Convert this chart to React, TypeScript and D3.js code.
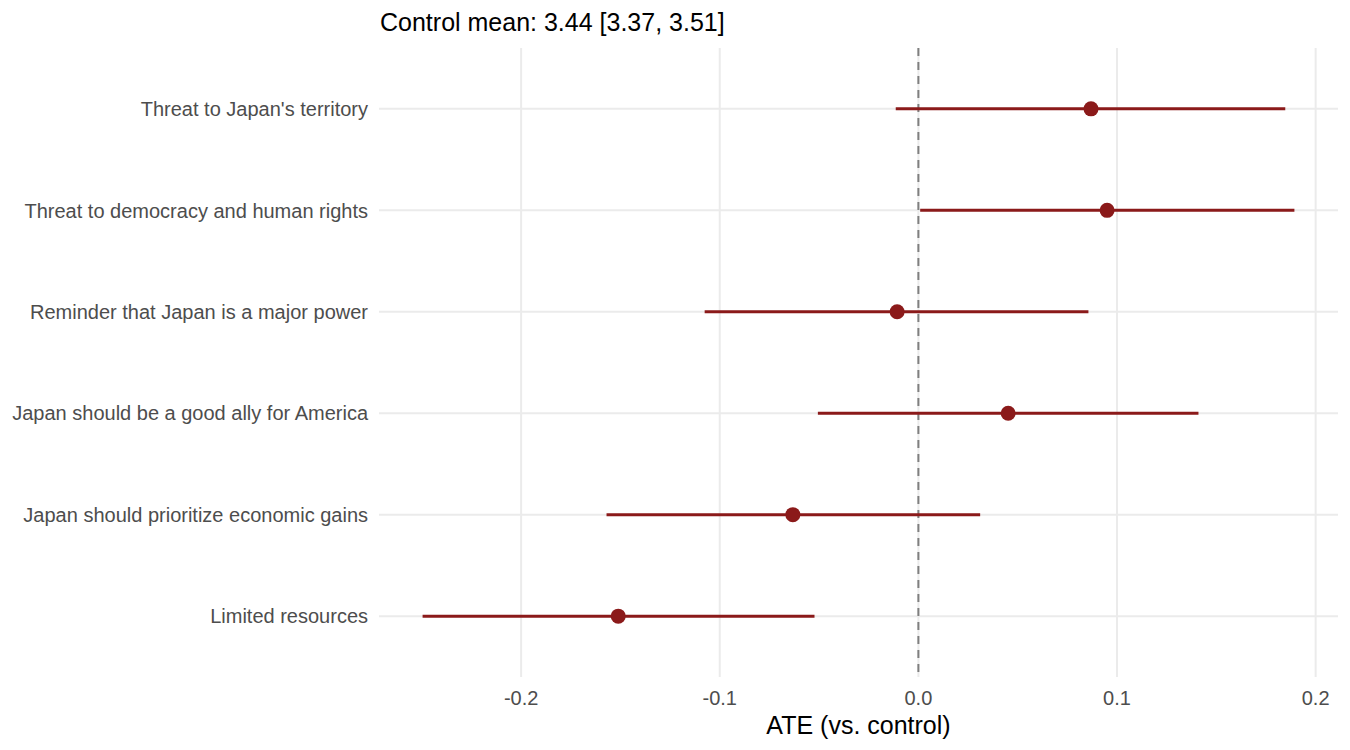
import { useEffect, useRef } from 'react';
import * as d3 from 'd3';

// treatment arms, top to bottom
const categories = [
  "Threat to Japan's territory",
  'Threat to democracy and human rights',
  'Reminder that Japan is a major power',
  'Japan should be a good ally for America',
  'Japan should prioritize economic gains',
  'Limited resources',
];
const estimates = [0.0869, 0.095, -0.0107, 0.0452, -0.0632, -0.1511];
const lower = [-0.0114, 0.0009, -0.1076, -0.0506, -0.157, -0.2496];
const upper = [0.1847, 0.1893, 0.0856, 0.141, 0.0311, -0.0523];
const xTicks = [-0.2, -0.1, 0.0, 0.1, 0.2];
const title = 'Control mean: 3.44 [3.37, 3.51]';
const xLabel = 'ATE (vs. control)';

const App = () => {
  const ref = useRef<SVGSVGElement>(null);

  useEffect(() => {
    document.body.style.margin = '0';
    if (!ref.current) return;
    const root = d3.select(ref.current);
    root.selectAll('*').remove();

    const W = 1350;
    const H = 750;
    const margin = { top: 48, right: 12, bottom: 73, left: 379 };
    const width = W - margin.left - margin.right;
    const height = H - margin.top - margin.bottom;
    const font = '"Liberation Sans", Arial, sans-serif';

    const data = categories.map((c, i) => ({
      cat: c,
      est: estimates[i],
      lo: lower[i],
      hi: upper[i],
    }));

    // ggplot-style 5% expansion
    const lo = d3.min(lower) as number;
    const hi = d3.max(upper) as number;
    const pad = (hi - lo) * 0.05;
    const x = d3.scaleLinear().domain([lo - pad, hi + pad]).range([0, width]);
    const y = d3.scalePoint<string>().domain(categories).range([0, height]).padding(0.6);

    const g = root.append('g').attr('transform', `translate(${margin.left},${margin.top})`);

    // grid lines
    g.selectAll('.vgrid')
      .data(xTicks)
      .enter()
      .append('line')
      .attr('x1', d => x(d))
      .attr('x2', d => x(d))
      .attr('y1', 0)
      .attr('y2', height)
      .attr('stroke', '#EBEBEB')
      .attr('stroke-width', 2);
    g.selectAll('.hgrid')
      .data(categories)
      .enter()
      .append('line')
      .attr('x1', 0)
      .attr('x2', width)
      .attr('y1', d => y(d) as number)
      .attr('y2', d => y(d) as number)
      .attr('stroke', '#EBEBEB')
      .attr('stroke-width', 2);

    // zero reference
    g.append('line')
      .attr('x1', x(0))
      .attr('x2', x(0))
      .attr('y1', 0)
      .attr('y2', height)
      .attr('stroke', '#7F7F7F')
      .attr('stroke-width', 2)
      .attr('stroke-dasharray', '8,6');

    // intervals
    g.selectAll('.ci')
      .data(data)
      .enter()
      .append('line')
      .attr('x1', d => x(d.lo))
      .attr('x2', d => x(d.hi))
      .attr('y1', d => y(d.cat) as number)
      .attr('y2', d => y(d.cat) as number)
      .attr('stroke', '#8B1A1A')
      .attr('stroke-width', 3);

    // points
    g.selectAll('.pt')
      .data(data)
      .enter()
      .append('circle')
      .attr('cx', d => x(d.est))
      .attr('cy', d => y(d.cat) as number)
      .attr('r', 7.5)
      .attr('fill', '#8B1A1A');

    // x tick labels
    g.selectAll('.xt')
      .data(xTicks)
      .enter()
      .append('text')
      .attr('x', d => x(d))
      .attr('y', height + 28)
      .attr('text-anchor', 'middle')
      .style('font-family', font)
      .style('font-size', '20px')
      .attr('fill', '#4D4D4D')
      .text(d => d.toFixed(1));

    // y tick labels
    g.selectAll('.yt')
      .data(categories)
      .enter()
      .append('text')
      .attr('x', -11)
      .attr('y', d => y(d) as number)
      .attr('dy', '0.36em')
      .attr('text-anchor', 'end')
      .style('font-family', font)
      .style('font-size', '20px')
      .attr('fill', '#4D4D4D')
      .text(d => d);

    // axis title
    g.append('text')
      .attr('x', width / 2)
      .attr('y', height + 57)
      .attr('text-anchor', 'middle')
      .style('font-family', font)
      .style('font-size', '25px')
      .attr('fill', '#000')
      .text(xLabel);

    // plot title
    root.append('text')
      .attr('x', margin.left + 1)
      .attr('y', 31)
      .style('font-family', font)
      .style('font-size', '25px')
      .attr('fill', '#000')
      .text(title);
  }, []);

  return <svg ref={ref} width={1350} height={750} style={{ display: 'block' }} />;
};

export default App;
